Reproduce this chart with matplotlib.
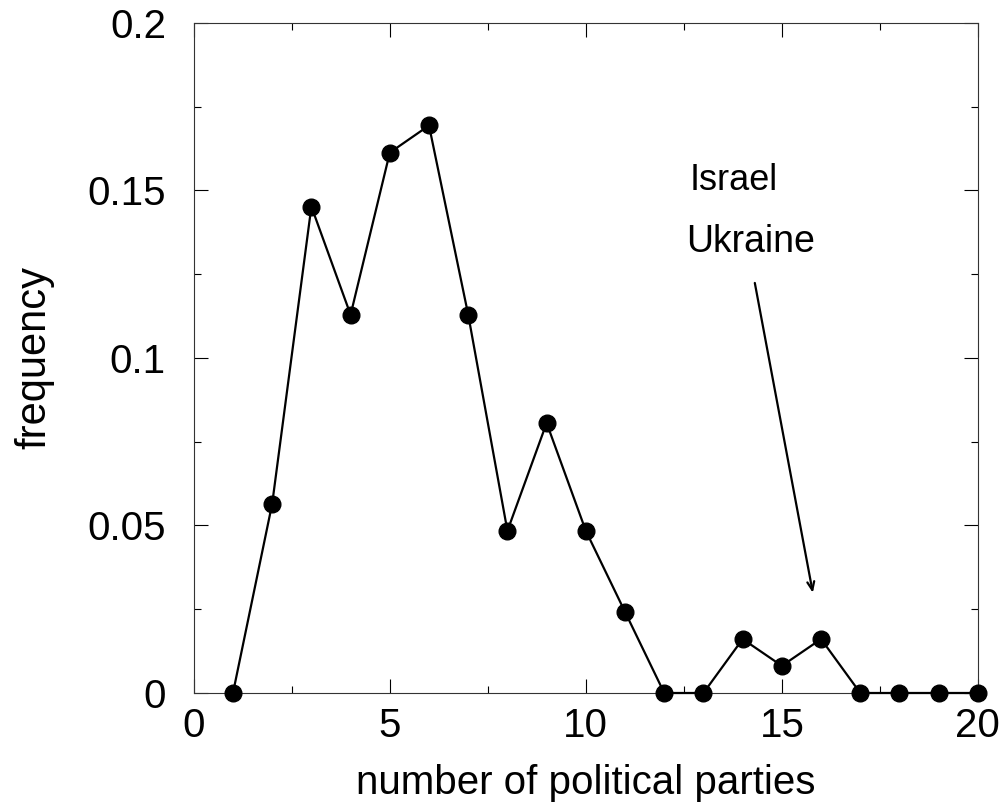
import matplotlib
matplotlib.use("Agg")
import matplotlib.pyplot as plt
from matplotlib.ticker import MultipleLocator

plt.rcParams['font.family'] = ['Liberation Sans', 'DejaVu Sans']

# number of parties and observed frequency
parties = [1, 2, 3, 4, 5, 6, 7, 8, 9, 10, 11, 12, 13, 14, 15, 16, 17, 18, 19, 20]
frequency = [0.0, 0.0565, 0.1452, 0.1129, 0.1613, 0.1694, 0.1129, 0.0484, 0.0806,
             0.0484, 0.0242, 0.0, 0.0, 0.0161, 0.0081, 0.0161, 0.0, 0.0, 0.0, 0.0]

x_ticks = [0, 5, 10, 15, 20]
y_ticks = [0, 0.05, 0.1, 0.15, 0.2]
y_tick_labels = ["0", "0.05", "0.1", "0.15", "0.2"]

fig = plt.figure(figsize=(10.04, 8.09), dpi=100)
ax = fig.add_axes([0.193, 0.1434, 0.781, 0.8282])

ax.plot(parties, frequency, color='black', lw=1.6, marker='o', ms=12,
        mfc='black', mec='black', clip_on=False, zorder=3)

ax.set_xlim(0, 20)
ax.set_ylim(0, 0.2)
ax.set_xticks(x_ticks)
ax.set_yticks(y_ticks)
ax.set_yticklabels(y_tick_labels)
ax.xaxis.set_minor_locator(MultipleLocator(2.5))
ax.yaxis.set_minor_locator(MultipleLocator(0.025))
ax.tick_params(which='both', direction='in', top=True, right=True,
               labelsize=29, color='black', width=0.8)
ax.tick_params(which='major', length=10)
ax.tick_params(which='minor', length=5)
ax.tick_params(axis='y', which='major', pad=20)
ax.tick_params(axis='x', which='major', pad=10)
for s in ax.spines.values():
    s.set_linewidth(0.8)
    s.set_color('#333333')

ax.set_xlabel("number of political parties", fontsize=29, labelpad=14)
ax.set_ylabel("frequency", fontsize=30, labelpad=24)

ax.text(12.65, 0.1501, "Israel", fontsize=26, ha='left', va='baseline')
ax.text(12.55, 0.1316, "Ukraine", fontsize=27, ha='left', va='baseline')
ax.annotate("", xy=(15.79, 0.0299), xytext=(14.31, 0.1224),
            arrowprops=dict(arrowstyle='->,head_length=0.6,head_width=0.25',
                            color='black', lw=1.6, shrinkA=0, shrinkB=0))

fig.savefig("out.png", dpi=100)
